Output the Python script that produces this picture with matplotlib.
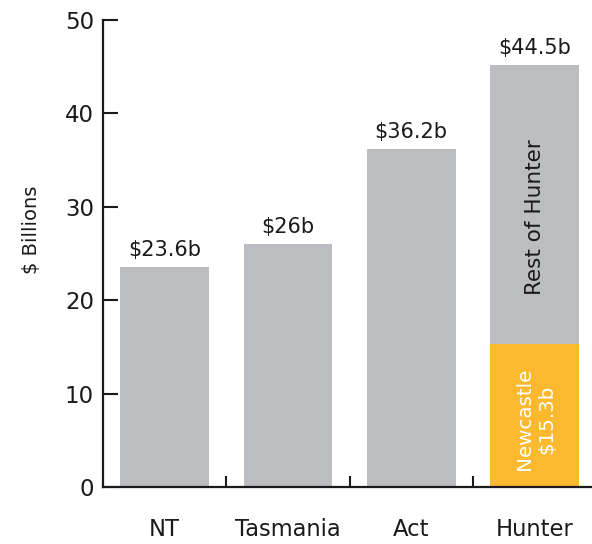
import matplotlib.pyplot as plt

# data
regions = ["NT", "Tasmania", "Act", "Hunter"]
totals = [23.6, 26.0, 36.2, 44.5]
value_labels = ["$23.6b", "$26b", "$36.2b", "$44.5b"]
newcastle = 15.3
rest_of_hunter = 29.9

GREY = "#bcbdc0"
ORANGE = "#fbb92f"
INK = "#1a1a1a"

plt.rcParams["font.family"] = ["DejaVu Sans"]

fig = plt.figure(figsize=(5.92, 5.44), dpi=100)
ax = fig.add_axes([0.174, 0.1048, 0.833, 0.8585])

x = list(range(len(regions)))
width = 0.72

# simple bars for the first three regions
ax.bar(x[:3], totals[:3], width=width, color=GREY, zorder=2)
# stacked Hunter bar
ax.bar(x[3], newcastle, width=width, color=ORANGE, zorder=2)
ax.bar(x[3], rest_of_hunter, bottom=newcastle, width=width, color=GREY, zorder=2)

tops = totals[:3] + [newcastle + rest_of_hunter]
for xi, top, lab in zip(x, tops, value_labels):
    ax.annotate(lab, (xi, top), xytext=(0, 5), textcoords="offset points",
                ha="center", va="bottom", fontsize=15, color=INK)

ax.text(x[3], newcastle + rest_of_hunter / 2 - 1.4, "Rest of Hunter", rotation=90,
        ha="center", va="center", fontsize=15.5, color=INK)
ax.text(x[3] + 0.01, newcastle / 2 - 0.4, "Newcastle\n$15.3b", rotation=90,
        ha="center", va="center", multialignment="center",
        fontsize=14.3, color="white", linespacing=1.2)

ax.set_xlim(-0.5, 3.5)
ax.set_ylim(0, 50)
ax.set_yticks([0, 10, 20, 30, 40, 50])

ax.set_xticks(x)
ax.set_xticklabels(regions, fontsize=16.3, color=INK)
ax.set_xticks([0.5, 1.5, 2.5], minor=True)
ax.tick_params(axis="x", which="major", length=0, pad=22)
ax.tick_params(axis="x", which="minor", direction="in", length=8, width=1.5, color=INK)
ax.tick_params(axis="y", direction="in", length=11, width=1.5, color=INK,
               labelsize=16.5, labelcolor=INK, pad=6.5)

for side in ["top", "right"]:
    ax.spines[side].set_visible(False)
for side in ["left", "bottom"]:
    ax.spines[side].set_linewidth(1.6)
    ax.spines[side].set_color(INK)

ax.set_ylabel("$ Billions", fontsize=14, color=INK)
ax.yaxis.set_label_coords(-0.126, 0.55)

fig.savefig("out.png", dpi=100, facecolor="white")
